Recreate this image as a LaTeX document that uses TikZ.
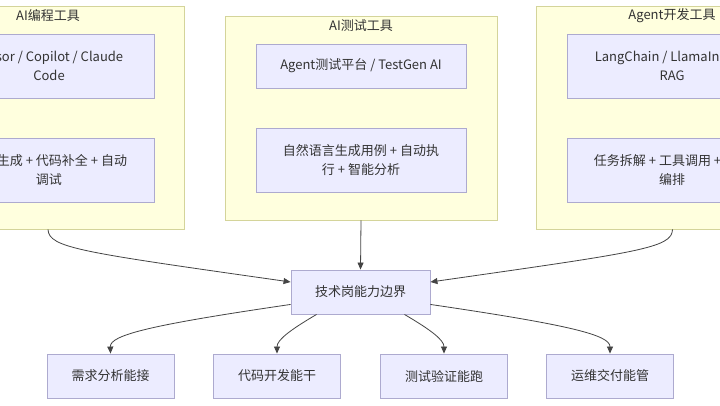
\documentclass[tikz,border=0pt]{standalone}
\usepackage{fontspec}
\setmainfont{Noto Sans CJK SC}
\usetikzlibrary{arrows.meta}
\definecolor{clfill}{HTML}{FFFFDE}
\definecolor{cldraw}{HTML}{D4D49A}
\definecolor{ndfill}{HTML}{ECECFF}
\definecolor{nddraw}{HTML}{ADAACF}
\definecolor{txt}{HTML}{333333}
\definecolor{edge}{HTML}{444444}
\tikzset{
  cluster/.style={draw=cldraw, fill=clfill, line width=0.9pt, inner sep=0pt},
  box/.style={draw=nddraw, fill=ndfill, line width=0.9pt, inner sep=0pt, align=center,
    text=txt, font=\fontsize{13}{19}\selectfont},
  ctitle/.style={text=txt, font=\fontsize{13}{16}\selectfont, inner sep=0pt},
  link/.style={draw=edge, line width=0.8pt, -{Triangle[length=7pt,width=6pt]}}
}
\begin{document}
\begin{tikzpicture}[x=1pt,y=-1pt]
\useasboundingbox (0,0) rectangle (720,405);
\fill[white] (0,0) rectangle (720,405);
\clip (0,0) rectangle (720,405);
% clusters
\node[cluster, minimum width=272pt, minimum height=223pt] (L) at (48,117.5) {};
\node[cluster, minimum width=272pt, minimum height=204pt] (M) at (361,118) {};
\node[cluster, minimum width=272pt, minimum height=223pt] (R) at (672.5,117.5) {};
\node[ctitle] (Lt) at (48,16) {AI编程工具};
\node[ctitle] (Mt) at (361,26) {AI测试工具};
\node[ctitle] (Rt) at (672,16) {Agent开发工具};
% inner boxes
\node[box, minimum width=210pt, minimum height=64pt] (L1) at (49,66) {Cursor / Copilot / Claude\\Code};
\node[box, minimum width=210pt, minimum height=64pt] (L2) at (49,170) {代码生成 + 代码补全 + 自动\\调试};
\node[box, minimum width=210pt, minimum height=44pt] (M1) at (361,66) {Agent测试平台 / TestGen AI};
\node[box, minimum width=210pt, minimum height=64pt] (M2) at (361,160) {自然语言生成用例 + 自动执\\行 + 智能分析};
\node[box, minimum width=210pt, minimum height=64pt] (R1) at (672,66) {LangChain / LlamaIndex /\\RAG};
\node[box, minimum width=210pt, minimum height=64pt] (R2) at (672,170) {任务拆解 + 工具调用 + 流程\\编排};
% centre
\node[box, minimum width=139pt, minimum height=44pt] (C) at (360.5,292) {技术岗能力边界};
% bottom
\node[box, minimum width=127pt, minimum height=44pt] (B1) at (110.5,376) {需求分析能接};
\node[box, minimum width=127pt, minimum height=44pt] (B2) at (277,376) {代码开发能干};
\node[box, minimum width=127pt, minimum height=44pt] (B3) at (444,376) {测试验证能跑};
\node[box, minimum width=127pt, minimum height=44pt] (B4) at (610,376) {运维交付能管};
% edges
\draw[link] (L.south) .. controls (49,248) and (80,252) .. ([yshift=10pt]C.west);
\draw[link] (M.south) -- (C.north);
\draw[link] (R.south) .. controls (672,248) and (640,252) .. ([yshift=10pt]C.east);
\draw[link] ([yshift=10pt]C.south west) .. controls (150,325) and (110,335) .. (B1.north);
\draw[link] ([xshift=26pt]C.south west) .. controls (290,330) and (277,340) .. (B2.north);
\draw[link] ([xshift=-26pt]C.south east) .. controls (431,330) and (444,340) .. (B3.north);
\draw[link] ([yshift=10pt]C.south east) .. controls (570,325) and (610,335) .. (B4.north);
\end{tikzpicture}
\end{document}
